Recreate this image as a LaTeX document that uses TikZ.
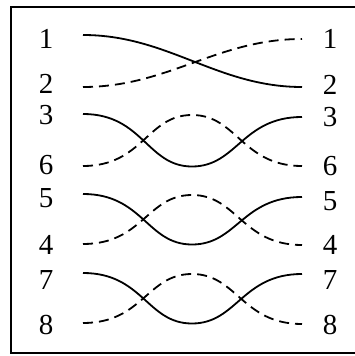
\documentclass[tikz,border=0pt]{standalone}
\usepackage{amsfonts,amsmath,amssymb}
\usepackage{fontspec}
\setmainfont{Liberation Serif}

\begin{document}
\begin{tikzpicture}[x=1pt,y=-1pt,
		wire/.style={line width=1.8pt},
		dashwire/.style={wire,dash pattern=on 10pt off 6pt},
		pin/.style={font=\fontsize{29}{31}\selectfont,inner sep=0pt}]
				\useasboundingbox (0,0) rectangle (355,356);
				\draw[line width=2pt] (356,7) -- (11,7) -- (11,353) -- (356,353);
				% pin numbers
				\foreach \n/\y in {1/38.5,2/84,3/115.5,6/165,5/198.5,4/244.5,7/280,8/325}
				\node[pin] (l\n) at (46,\y) {\n};
				\foreach \n/\y in {1/39,2/85,3/117.5,6/166.5,5/201,4/245,7/280,8/325}
				\node[pin] (r\n) at (330,\y) {\n};
				% pair 1-2
				\coordinate (a1) at (83,35);
				\coordinate (a2) at (83,87);
				\coordinate (b1) at (302,39);
				\coordinate (b2) at (302,87);
				\draw[wire] (a1) .. controls +(85,0) and +(-85,0) .. (b2);
				\draw[dashwire] (a2) .. controls +(85,0) and +(-85,0) .. (b1);
				% twisted pairs
				\foreach \s/\d/\ys/\yd/\zs/\zd in {3/6/114/166/117/166,5/4/194/244/197/245,7/8/273/323/274/324}{
				\coordinate (a\s) at (83,\ys);
				\coordinate (a\d) at (83,\yd);
				\coordinate (m\s) at (192,\yd+0.5);
				\coordinate (m\d) at (192,\ys+1);
				\coordinate (b\s) at (302,\zs);
				\coordinate (b\d) at (302,\zd);
				\draw[wire] (a\s) .. controls +(60,0) and +(-45,0) .. (m\s)
					.. controls +(45,0) and +(-60,0) .. (b\s);
				\draw[dashwire] (a\d) .. controls +(60,0) and +(-45,0) .. (m\d)
					.. controls +(45,0) and +(-60,0) .. (b\d);
				}
			\end{tikzpicture}
\end{document}
